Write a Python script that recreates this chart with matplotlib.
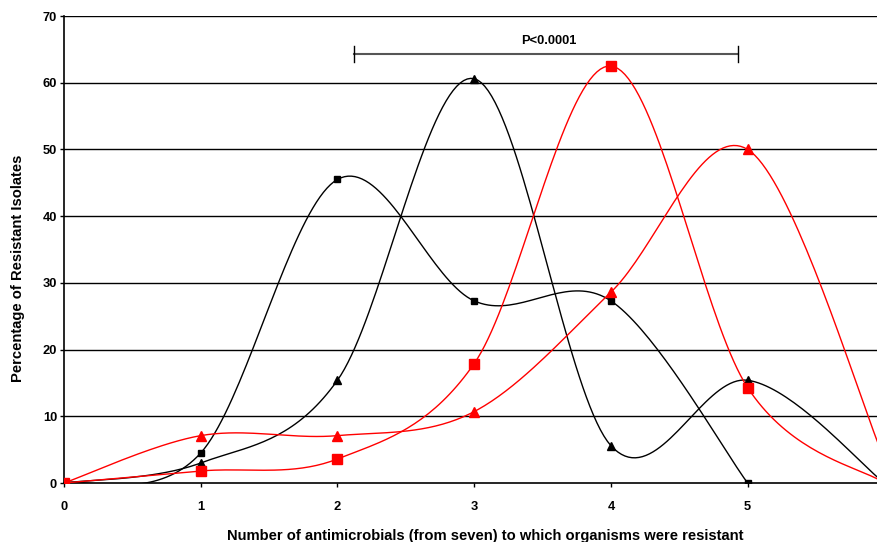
import numpy as np
import matplotlib
matplotlib.use("Agg")
import matplotlib.pyplot as plt

plt.rcParams['font.family'] = ['Liberation Sans', 'DejaVu Sans']

x_vals = [0, 1, 2, 3, 4, 5, 6]
black_sq = [0, 4.5, 45.5, 27.3, 27.3, 0]
black_tri = [0, 3.0, 15.4, 60.6, 5.6, 15.4, 0]
red_sq = [0, 1.8, 3.6, 17.9, 62.5, 14.3, 0]
red_tri = [0, 7.1, 7.1, 10.7, 28.6, 50.0, 3.6]
y_ticks = [0, 10, 20, 30, 40, 50, 60, 70]
x_ticks = [0, 1, 2, 3, 4, 5]
bracket = (2.12, 4.93, 64.3)
p_text = "P<0.0001"


def smooth(xs, ys, n=40):
    P = np.column_stack([xs, ys]).astype(float)
    Pe = np.vstack([P[0], P, P[-1]])
    out = []
    for i in range(len(P) - 1):
        p0, p1, p2, p3 = Pe[i], Pe[i + 1], Pe[i + 2], Pe[i + 3]
        c1 = p1 + (p2 - p0) / 6.0
        c2 = p2 - (p3 - p1) / 6.0
        t = np.linspace(0, 1, n)[:, None]
        seg = ((1 - t) ** 3) * p1 + 3 * ((1 - t) ** 2) * t * c1 + 3 * (1 - t) * t ** 2 * c2 + t ** 3 * p2
        out.append(seg if i == 0 else seg[1:])
    s = np.vstack(out)
    return s[:, 0], s[:, 1]


W, H = 878, 542
fig = plt.figure(figsize=(W / 100, H / 100), dpi=100)
ax = fig.add_axes([64 / W, 1 - 483 / H, 1 - 64 / W + 0.001, (483 - 16) / H])

for yt in y_ticks[1:]:
    ax.axhline(yt, color='black', lw=1.0, zorder=1)

series = [
    (black_sq, 'black', 's', 5),
    (black_tri, 'black', '^', 6),
    (red_sq, 'red', 's', 7),
    (red_tri, 'red', '^', 7),
]
for ys, c, m, ms in series:
    xs = x_vals[:len(ys)]
    sx, sy = smooth(xs, ys)
    ax.plot(sx, sy, color=c, lw=1.0, zorder=3)
    ax.plot(xs, ys, linestyle='none', marker=m, color=c, markersize=ms, zorder=4)

ax.set_xlim(0, 5.96)
ax.set_ylim(0, 70)
ax.set_yticks(y_ticks)
ax.set_xticks(x_ticks)
ax.set_yticklabels([str(v) for v in y_ticks], fontweight='bold', fontsize=9.3)
ax.set_xticklabels([str(v) for v in x_ticks], fontweight='bold', fontsize=9.3)
ax.tick_params(axis='y', length=3, width=1, pad=2)
ax.tick_params(axis='x', length=3, width=1, pad=10, direction='out')
for s in ['top', 'right']:
    ax.spines[s].set_visible(False)
ax.spines['left'].set_linewidth(1.2)
ax.spines['bottom'].set_linewidth(1.2)

x1, x2, yb = bracket
ax.plot([x1, x2], [yb, yb], color='#555555', lw=1.5, zorder=5)
ax.plot([x1, x1], [yb - 1.2, yb + 1.2], color='black', lw=1, zorder=5)
ax.plot([x2, x2], [yb - 1.2, yb + 1.2], color='black', lw=1, zorder=5)
ax.text((x1 + x2) / 2 + 0.02, yb + 1.0, p_text, ha='center', va='bottom', fontweight='bold', fontsize=9.3)

fig.text(485 / W, 1 - 540 / H, "Number of antimicrobials (from seven) to which organisms were resistant",
         fontweight='bold', fontsize=10.6, ha='center', va='baseline')
fig.text(18 / W, 1 - 268 / H, "Percentage of Resistant Isolates", fontweight='bold', fontsize=10.6,
         ha='center', va='center', rotation=90)

fig.savefig("out.png", dpi=100)
